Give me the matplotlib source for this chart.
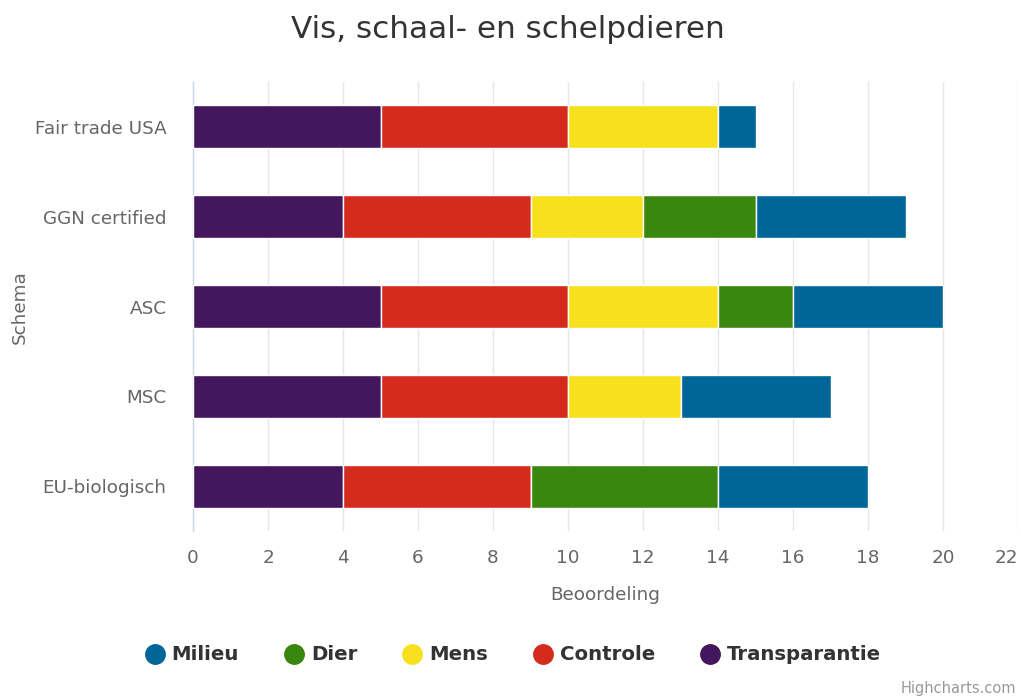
import matplotlib
matplotlib.use("Agg")
import matplotlib.pyplot as plt
from matplotlib.lines import Line2D
import numpy as np

plt.rcParams['font.family'] = ['DejaVu Sans']

categories = ["Fair trade USA", "GGN certified", "ASC", "MSC", "EU-biologisch"]
series_names = ["Milieu", "Dier", "Mens", "Controle", "Transparantie"]
milieu = [1, 4, 4, 4, 4]
dier = [0, 3, 2, 0, 5]
mens = [4, 3, 4, 3, 0]
controle = [5, 5, 5, 5, 5]
transparantie = [5, 4, 5, 5, 4]
colors = {"Milieu": "#006699", "Dier": "#3a8710", "Mens": "#f7e11e",
          "Controle": "#d52b1e", "Transparantie": "#43165d"}
xticks = [0, 2, 4, 6, 8, 10, 12, 14, 16, 18, 20, 22]

values = {"Milieu": milieu, "Dier": dier, "Mens": mens,
          "Controle": controle, "Transparantie": transparantie}

W, H = 1021, 697
fig = plt.figure(figsize=(W / 100, H / 100), dpi=100)
ax = fig.add_axes([193 / W, 1 - 531 / H, (1018 - 193) / W, (531 - 82) / H])

y = np.arange(len(categories))
left = np.zeros(len(categories))
stack_order = ["Transparantie", "Controle", "Mens", "Dier", "Milieu"]
for name in stack_order:
    v = np.array(values[name], dtype=float)
    ax.barh(y, v, left=left, height=0.48, color=colors[name],
            edgecolor="white", linewidth=1, zorder=3)
    left += v

ax.set_ylim(len(categories) - 0.5, -0.5)
ax.set_xlim(0, 22)
ax.set_yticks(y)
ax.set_yticklabels(categories)
ax.set_xticks(xticks)
ax.set_xticklabels([str(t) for t in xticks])
ax.get_xticklabels()[-1].set_horizontalalignment("right")
ax.grid(axis="x", color="#e6e6e6", linewidth=1, zorder=0)
for s in ["top", "right", "bottom"]:
    ax.spines[s].set_visible(False)
ax.spines["left"].set_color("#ccd6eb")
ax.spines["left"].set_linewidth(1)
ax.tick_params(axis="y", length=0, pad=19, labelsize=13.2, labelcolor="#666666")
ax.tick_params(axis="x", length=0, pad=13, labelsize=13.2, labelcolor="#666666")

ax.set_xlabel("Beoordeling", fontsize=13.2, color="#666666", labelpad=14)
fig.text(20 / W, 1 - 307 / H, "Schema", rotation=90, fontsize=13.2,
         color="#666666", ha="center", va="center")

fig.text(508 / W, 1 - 29 / H, "Vis, schaal- en schelpdieren", fontsize=22.4,
         color="#333333", ha="center", va="center")

handles = [Line2D([0], [0], marker="o", linestyle="", markersize=14,
                  markerfacecolor=colors[n], markeredgecolor=colors[n])
           for n in series_names]
fig.legend(handles, series_names, loc="center", bbox_to_anchor=(513 / W, 1 - 655 / H),
           ncol=5, frameon=False, prop={"weight": "bold", "size": 14.2},
           labelcolor="#333333", handletextpad=0.35, columnspacing=2.3,
           handlelength=1.0)

fig.text(1016 / W, 1 - 688 / H, "Highcharts.com", fontsize=10.5, color="#999999",
         ha="right", va="center")

fig.savefig("out.png", dpi=100)
